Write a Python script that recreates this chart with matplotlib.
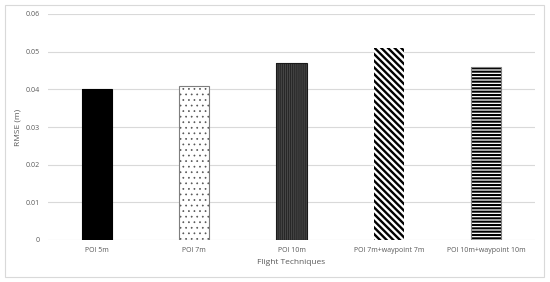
import matplotlib.pyplot as plt
from matplotlib.patches import Rectangle

# Data
techniques = ["POI 5m", "POI 7m", "POI 10m", "POI 7m+waypoint 7m", "POI 10m+waypoint 10m"]
rmse = [0.040, 0.041, 0.047, 0.051, 0.046]
yticks = [0, 0.01, 0.02, 0.03, 0.04, 0.05, 0.06]
ytick_labels = ["0", "0.01", "0.02", "0.03", "0.04", "0.05", "0.06"]

# bar styles: facecolor, hatch colour, hatch, hatch linewidth, outline colour
styles = [
    ("black", "black", None, 1.0, "black"),
    ("white", "#555555", "...", 0.5, "#7f7f7f"),
    ("#454545", "#1a1a1a", "||||||||", 0.5, "#1a1a1a"),
    ("white", "black", "\\\\\\\\\\", 1.7, None),
    ("white", "black", "-----", 1.5, "#7f7f7f"),
]

plt.rcParams['font.family'] = ['Open Sans', 'DejaVu Sans']
text_color = "#595959"
grid_color = "#d9d9d9"

fig = plt.figure(figsize=(5.5, 2.82), dpi=100)
ax = fig.add_axes([48 / 550, 42 / 282, 487 / 550, 226 / 282])

x = list(range(len(techniques)))
for i, (val, st) in enumerate(zip(rmse, styles)):
    fc, hc, hatch, hlw, oc = st
    with plt.rc_context({'hatch.linewidth': hlw}):
        ax.bar(x[i], val, width=0.31, color=fc, edgecolor=hc, hatch=hatch,
               linewidth=0, zorder=3)
    if oc is not None:
        ax.bar(x[i], val, width=0.31, fill=False, edgecolor=oc,
               linewidth=0.8, zorder=4)

ax.set_xlim(-0.5, len(techniques) - 0.5)
ax.set_ylim(0, 0.06)
ax.set_yticks(yticks)
ax.set_yticklabels(ytick_labels)
ax.set_xticks(x)
ax.set_xticklabels(techniques)
ax.grid(axis='y', color=grid_color, linewidth=0.8, zorder=0)
for s in ax.spines.values():
    s.set_visible(False)
ax.tick_params(length=0, labelsize=5, colors=text_color, pad=5)
ax.tick_params(axis='y', pad=6)

ax.set_xlabel("Flight Techniques", fontsize=6, color=text_color, labelpad=4)
ax.set_ylabel("RMSE (m)", fontsize=6, color=text_color, labelpad=3)

# chart border
fig.patches.append(Rectangle((5 / 550, 5 / 282), 539 / 550, 272 / 282,
                             transform=fig.transFigure, fill=False,
                             edgecolor=grid_color, linewidth=0.8))

fig.savefig("out.png", dpi=100)
